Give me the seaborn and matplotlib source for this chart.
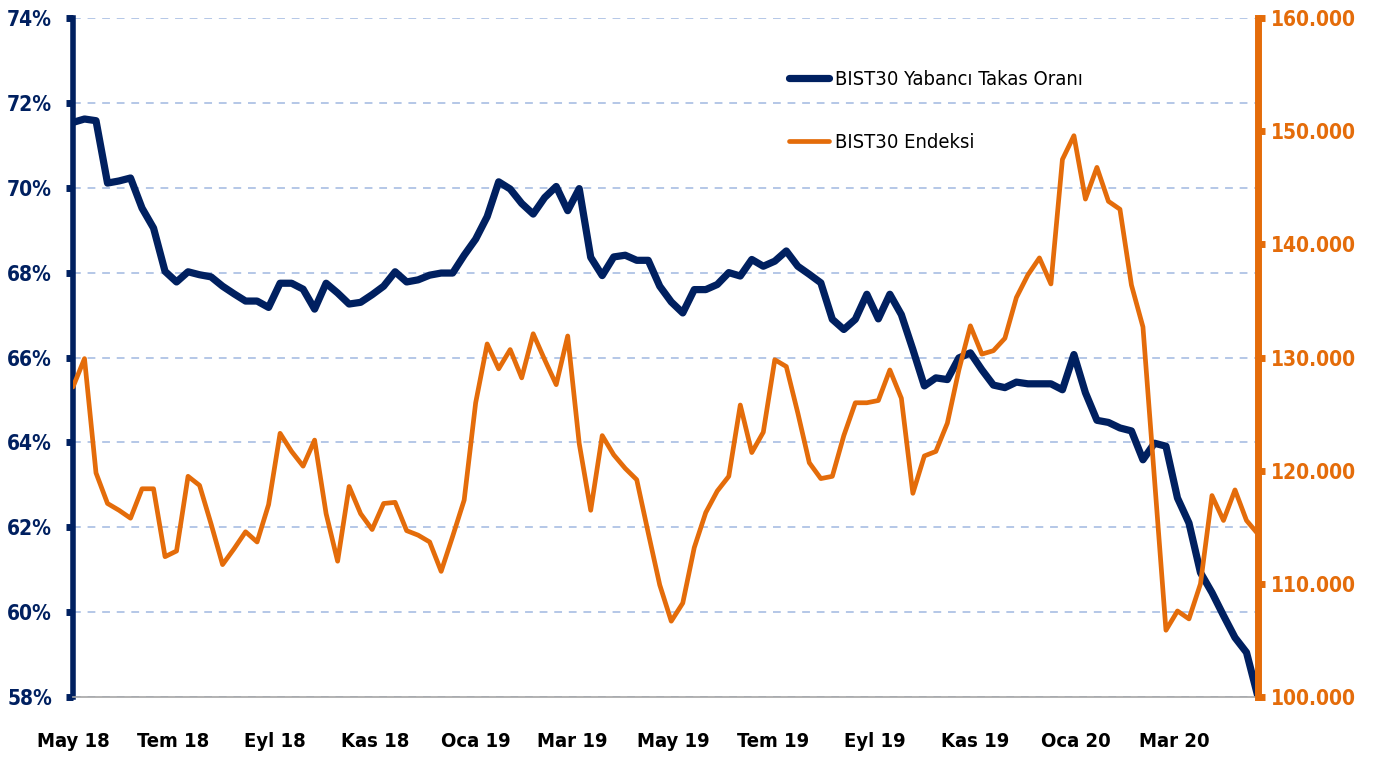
import pandas as pd
import numpy as np
import matplotlib
matplotlib.use('Agg')
import matplotlib.pyplot as plt
import matplotlib.ticker as mticker
import seaborn as sns

# haftalik veri, May 2018 - Nis 2020
baslangic = '2018-05-04'
takas_orani = [71.54, 71.62, 71.58, 70.11, 70.16, 70.23, 69.52, 69.05, 68.03, 67.78,
               68.02, 67.95, 67.90, 67.68, 67.50, 67.33, 67.33, 67.18, 67.75, 67.75,
               67.61, 67.14, 67.75, 67.52, 67.26, 67.30, 67.48, 67.68, 68.02, 67.78,
               67.83, 67.94, 67.99, 67.99, 68.41, 68.79, 69.32, 70.14, 69.97, 69.63,
               69.38, 69.77, 70.03, 69.46, 69.98, 68.36, 67.93, 68.37, 68.41, 68.29,
               68.29, 67.68, 67.31, 67.05, 67.60, 67.60, 67.72, 68.00, 67.92, 68.31,
               68.15, 68.27, 68.51, 68.15, 67.96, 67.76, 66.90, 66.66, 66.90, 67.49,
               66.91, 67.49, 67.01, 66.19, 65.33, 65.52, 65.48, 65.99, 66.11, 65.71,
               65.35, 65.29, 65.42, 65.38, 65.38, 65.38, 65.24, 66.07, 65.17, 64.52,
               64.47, 64.34, 64.27, 63.59, 63.98, 63.91, 62.69, 62.10, 60.93, 60.46,
               59.92, 59.40, 59.05, 58.00]
endeks = [127.4, 129.9, 119.8, 117.1, 116.5, 115.8, 118.4, 118.4, 112.4, 112.9,
          119.5, 118.7, 115.3, 111.7, 113.1, 114.6, 113.7, 117.0, 123.3, 121.7,
          120.4, 122.7, 116.2, 112.0, 118.6, 116.2, 114.8, 117.1, 117.2, 114.7,
          114.3, 113.7, 111.1, 114.2, 117.4, 126.0, 131.2, 129.0, 130.7, 128.2,
          132.1, 129.8, 127.6, 131.9, 122.4, 116.5, 123.1, 121.4, 120.2, 119.2,
          114.5, 109.9, 106.7, 108.3, 113.2, 116.3, 118.2, 119.5, 125.8, 121.6,
          123.4, 129.8, 129.2, 125.1, 120.7, 119.3, 119.5, 123.1, 126.0, 126.0,
          126.2, 128.9, 126.4, 118.0, 121.3, 121.7, 124.2, 128.9, 132.8, 130.3,
          130.6, 131.7, 135.3, 137.3, 138.8, 136.5, 147.5, 149.6, 144.0, 146.8,
          143.8, 143.1, 136.4, 132.7, 119.3, 105.9, 107.6, 106.9, 110.0, 117.8,
          115.6, 118.3, 115.6, 114.4]
aylar = {1: 'Oca', 3: 'Mar', 5: 'May', 7: 'Tem', 9: 'Eyl', 11: 'Kas'}

tarih = pd.date_range(baslangic, periods=len(takas_orani), freq='7D')
df = pd.DataFrame({'tarih': tarih, 'takas': takas_orani, 'endeks': np.array(endeks) * 1000})

lacivert = '#002060'
turuncu = '#E46C0A'

sns.set_style('white')
plt.rcParams['font.family'] = ['DejaVu Sans']
plt.rcParams['font.stretch'] = 'condensed'

fig = plt.figure(figsize=(13.83, 7.62), dpi=100)
ax = fig.add_axes([73 / 1383, 1 - 697 / 762, (1258 - 73) / 1383, (697 - 18) / 762])
ax2 = ax.twinx()

sns.lineplot(data=df, x='tarih', y='takas', ax=ax, color=lacivert, linewidth=5.2,
             label='BIST30 Yabancı Takas Oranı', legend=False)
sns.lineplot(data=df, x='tarih', y='endeks', ax=ax2, color=turuncu, linewidth=3.4,
             label='BIST30 Endeksi', legend=False)

ax.set_ylim(58, 74)
ax.set_yticks(np.arange(58, 75, 2))
ax.yaxis.set_major_formatter(mticker.FuncFormatter(lambda v, p: f'{v:.0f}%'))
ax2.set_ylim(100000, 160000)
ax2.set_yticks(np.arange(100000, 160001, 10000))
ax2.yaxis.set_major_formatter(mticker.FuncFormatter(lambda v, p: f'{v:,.0f}'.replace(',', '.')))

ax.set_xlim(tarih[0], tarih[-1])
tikler = pd.date_range(tarih[0], periods=12, freq=pd.DateOffset(months=2))
ax.set_xticks(tikler)
ax.set_xticklabels([f'{aylar[t.month]} {t.strftime("%y")}' for t in tikler])

ax.set_xlabel('')
ax.set_ylabel('')
ax2.set_ylabel('')

# grid
ax.grid(axis='y', color='#B4C7E7', linestyle=(0, (4, 3.5)), linewidth=1.4)
ax.grid(axis='x', visible=False)
ax2.grid(False)
ax.set_axisbelow(True)

# kenarlar
for a in (ax, ax2):
    for s in a.spines.values():
        s.set_visible(False)
ax.spines['left'].set_visible(True)
ax.spines['left'].set_color(lacivert)
ax.spines['left'].set_linewidth(4)
ax.spines['bottom'].set_visible(True)
ax.spines['bottom'].set_color('#A6A6A6')
ax.spines['bottom'].set_linewidth(1.2)
ax2.spines['right'].set_visible(True)
ax2.spines['right'].set_color(turuncu)
ax2.spines['right'].set_linewidth(5)

ax.tick_params(axis='y', direction='out', length=5, width=5, color=lacivert,
               labelcolor=lacivert, labelsize=15, pad=10)
ax.tick_params(axis='x', direction='out', length=8, width=1.2, color='#A6A6A6',
               labelcolor='black', labelsize=14.5, pad=17)
ax2.tick_params(axis='y', direction='out', length=5, width=5, color=turuncu,
                labelcolor=turuncu, labelsize=15, pad=4)
for lbl in ax.get_yticklabels() + ax.get_xticklabels() + ax2.get_yticklabels():
    lbl.set_fontweight('bold')

h1, l1 = ax.get_legend_handles_labels()
h2, l2 = ax2.get_legend_handles_labels()
leg = fig.legend(h1 + h2, l1 + l2, loc='upper left', bbox_to_anchor=(789 / 1383, 1 - 70 / 762),
                 frameon=False, fontsize=14.5, handlelength=2.0, handletextpad=0.3,
                 labelspacing=2.2, borderpad=0, borderaxespad=0, labelcolor='black')
for ln in leg.get_lines():
    ln.set_solid_capstyle('round')

fig.savefig('out.png', dpi=100)
